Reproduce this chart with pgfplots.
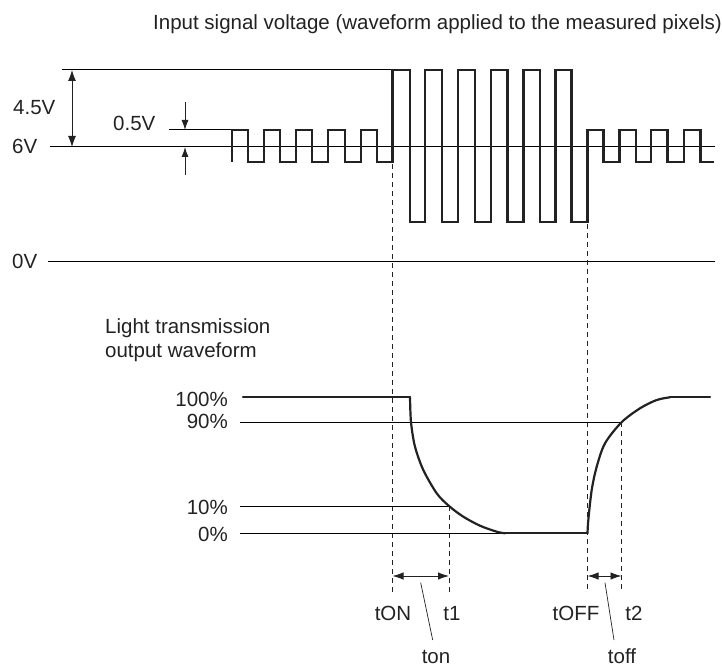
\documentclass[border=0pt]{standalone}
\usepackage{pgfplots}
\pgfplotsset{compat=1.18}
\usepackage{fontspec}
\setmainfont{Liberation Sans}
\usetikzlibrary{arrows.meta}
\definecolor{ink}{HTML}{222222}
\definecolor{thin}{HTML}{8A8A8A}
\begin{document}
\begin{tikzpicture}
\begin{axis}[
  scale only axis, width=722pt, height=668pt,
  xmin=0, xmax=722, ymin=0, ymax=668, y dir=reverse,
  hide axis, clip=false,
  every axis plot/.append style={line join=miter},
  font=\fontsize{20.5}{24}\selectfont,
]
\addplot[draw=none] coordinates {(0,0) (722,668)};
% reference grey lines (input)
\addplot[thin, line width=1pt] coordinates {(62,70) (392.5,70)};
\addplot[thin, line width=1pt] coordinates {(50,147) (715,147)};
\addplot[thin, line width=1pt] coordinates {(169,130) (232,130)};
\addplot[thin, line width=1pt] coordinates {(48,261) (715,261)};
% dimension arrows
\addplot[ink, line width=0.9pt, {Latex[length=11pt,width=8pt]}-{Latex[length=11pt,width=8pt]}] coordinates {(72,70) (72,147)};
\addplot[ink, line width=0.9pt, -{Latex[length=10pt,width=7pt]}] coordinates {(185,102) (185,130)};
\addplot[ink, line width=0.9pt, -{Latex[length=10pt,width=7pt]}] coordinates {(185,175) (185,147)};
% dashed timing lines
\addplot[ink, line width=0.8pt, dash pattern=on 5pt off 4pt] coordinates {(392.5,164) (392.5,592)};
\addplot[ink, line width=0.8pt, dash pattern=on 5pt off 4pt] coordinates {(587.5,224) (587.5,592)};
\addplot[ink, line width=0.8pt, dash pattern=on 5pt off 4pt] coordinates {(449,506) (449,592)};
\addplot[ink, line width=0.8pt, dash pattern=on 5pt off 4pt] coordinates {(621.5,422) (621.5,592)};
% input waveform
\addplot[ink, line width=2.2pt] coordinates {
(232,162) (232,130) (248,130) (248,162) (264,162) (264,130) (280,130) (280,162)
(296,162) (296,130) (312,130) (312,162) (328,162) (328,130) (345,130) (345,162)
(361,162) (361,130) (377,130) (377,162) (392.5,162) (392.5,70) (410,70) (410,222)
(425,222) (425,70) (442,70) (442,222) (458,222) (458,70) (475,70) (475,222)
(491,222) (491,70) (507.5,70) (507.5,222) (523.5,222) (523.5,70) (540,70) (540,222)
(555.5,222) (555.5,70) (571.5,70) (571.5,222) (587.5,222) (587.5,130) (603.5,130) (603.5,162)
(619.5,162) (619.5,130) (636,130) (636,162) (651,162) (651,130) (667.5,130) (667.5,162)
(684,162) (684,130) (700.5,130) (700.5,162) (714,162)};
% level lines (output)
\addplot[thin, line width=1pt] coordinates {(240,422.3) (621.5,422.3)};
\addplot[thin, line width=1pt] coordinates {(240,506) (449,506)};
\addplot[thin, line width=1pt] coordinates {(240,533.3) (587.5,533.3)};
% output waveform
\addplot[ink, line width=2.2pt, line cap=round] coordinates {(243,397.3) (410,397.3)};
\addplot[ink, line width=2.2pt, line cap=round, smooth, tension=0.5] coordinates {
(410,397.3) (411,422.3) (415,446.7) (423.3,470) (436.7,493.3) (449,506) (463.3,516.7) (480,525.7) (496.7,531.7) (505,533.3)};
\addplot[ink, line width=2.2pt, line cap=round] coordinates {(505,533.3) (587.5,533.3)};
\addplot[ink, line width=2.2pt, line cap=round, smooth, tension=0.5] coordinates {
(587.5,533.3) (588.3,520) (591.7,490) (596.7,466.7) (605,443.3) (621.5,422.3) (640,408.3) (656.7,400) (670,397.3)};
\addplot[ink, line width=2.2pt, line cap=round] coordinates {(670,397.3) (710,397.3)};
% time arrows
\addplot[ink, line width=0.9pt, {Latex[length=11pt,width=7.5pt]}-{Latex[length=11pt,width=7.5pt]}] coordinates {(392.5,576) (449,576)};
\addplot[ink, line width=0.9pt, {Latex[length=11pt,width=7.5pt]}-{Latex[length=11pt,width=7.5pt]}] coordinates {(587.5,576) (621.5,576)};
% leader lines
\addplot[ink, line width=0.7pt] coordinates {(420.7,582.7) (432.7,640)};
\addplot[ink, line width=0.7pt] coordinates {(605,582.7) (614,640)};
% texts
\begin{scope}[every node/.style={text=ink, inner sep=0pt}]
\node[anchor=base west] at (axis cs:153,30) {Input signal voltage (waveform applied to the measured pixels)};
\node[anchor=base west] at (axis cs:13,115) {4.5V};
\node[anchor=base west] at (axis cs:12,154) {6V};
\node[anchor=base west] at (axis cs:113,131) {0.5V};
\node[anchor=base west] at (axis cs:12,268) {0V};
\node[anchor=base west] at (axis cs:105,333) {Light transmission};
\node[anchor=base west] at (axis cs:105,357) {output waveform};
\node[anchor=base east] at (axis cs:228,406) {100\%};
\node[anchor=base east] at (axis cs:228,428) {90\%};
\node[anchor=base east] at (axis cs:228,514) {10\%};
\node[anchor=base east] at (axis cs:228,541) {0\%};
\node[anchor=base] at (axis cs:393,620) {tON};
\node[anchor=base] at (axis cs:452,620) {t1};
\node[anchor=base] at (axis cs:576,620) {tOFF};
\node[anchor=base] at (axis cs:634,620) {t2};
\node[anchor=base] at (axis cs:436,663) {ton};
\node[anchor=base] at (axis cs:622,663) {toff};
\end{scope}
\end{axis}
\end{tikzpicture}
\end{document}
